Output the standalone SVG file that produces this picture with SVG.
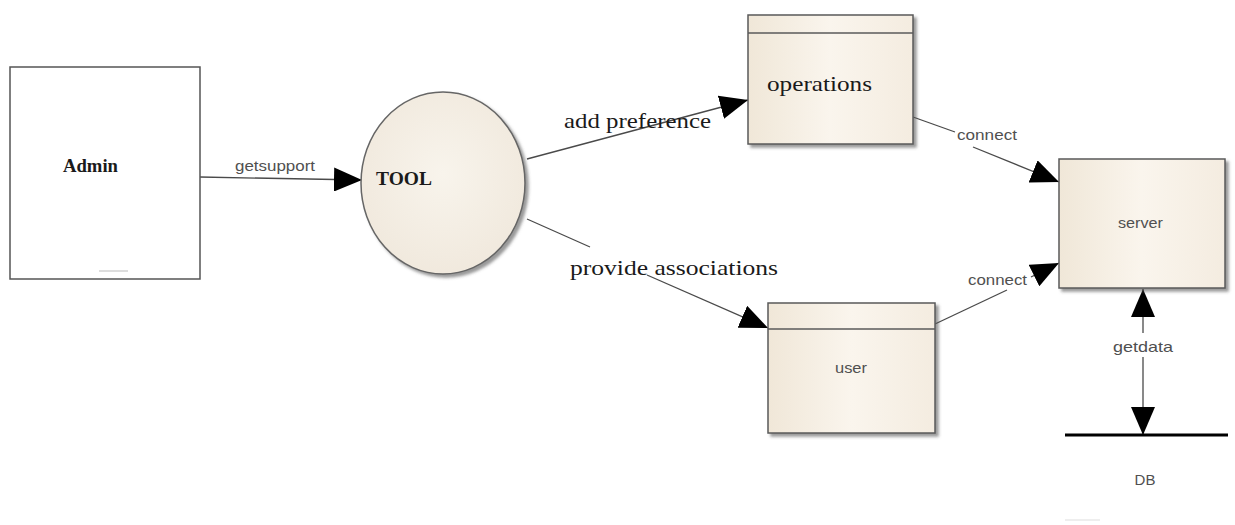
<svg xmlns="http://www.w3.org/2000/svg" width="1235" height="525" viewBox="0 0 1235 525">
<style>
  .box { fill: url(#boxGrad); stroke: #5a5a5a; stroke-width: 1.5; filter: url(#shadow); }
  .hdr { stroke: #5a5a5a; stroke-width: 1.5; }
  .conn { stroke: #4a4a4a; stroke-width: 1.3; fill: none; }
  .sans { font-family: "Liberation Sans", Arial, sans-serif; font-size: 15px; fill: #505050; }
  .serif { font-family: "Liberation Serif", "Times New Roman", serif; font-size: 21px; fill: #1a1a1a; }
  .bold { font-family: "Liberation Serif", "Times New Roman", serif; font-size: 18px; font-weight: bold; fill: #1a1a1a; }
</style>
<defs>
  <linearGradient id="boxGrad" x1="0" y1="0" x2="1" y2="0">
    <stop offset="0" stop-color="#f0e7d8"/>
    <stop offset="0.5" stop-color="#faf5ed"/>
    <stop offset="1" stop-color="#f4ece0"/>
  </linearGradient>
  <radialGradient id="ellGrad" cx="0.5" cy="0.45" r="0.6">
    <stop offset="0" stop-color="#f8f4ec"/>
    <stop offset="1" stop-color="#f0e8dc"/>
  </radialGradient>
  <filter id="shadow" x="-10%" y="-10%" width="130%" height="130%">
    <feDropShadow dx="3" dy="3" stdDeviation="1.5" flood-color="#555" flood-opacity="0.6"/>
  </filter>
  <marker id="arrow" markerUnits="userSpaceOnUse" markerWidth="28" markerHeight="24" refX="28" refY="12" orient="auto-start-reverse">
    <path d="M0,0 L28,12 L0,24 z" fill="#000"/>
  </marker>
</defs>
<rect width="1235" height="525" fill="#fff"/>

<g id="connectors">
  <line class="conn" x1="200" y1="177" x2="362" y2="180" marker-end="url(#arrow)"/>
  <line class="conn" x1="527" y1="159" x2="748" y2="100" marker-end="url(#arrow)"/>
  <line class="conn" x1="527" y1="219" x2="590" y2="247"/>
  <line class="conn" x1="647" y1="275" x2="768" y2="328" marker-end="url(#arrow)"/>
  <line class="conn" x1="913" y1="117" x2="955" y2="132"/>
  <line class="conn" x1="973" y1="147" x2="1059" y2="182" marker-end="url(#arrow)"/>
  <line class="conn" x1="935" y1="324" x2="1007" y2="290"/>
  <line class="conn" x1="1031" y1="277" x2="1059" y2="263" marker-end="url(#arrow)"/>
  <line class="conn" x1="1143" y1="333" x2="1143" y2="289" marker-end="url(#arrow)"/>
  <line class="conn" x1="1143" y1="357" x2="1143" y2="435" marker-end="url(#arrow)"/>
  <text class="sans" x="235" y="171" textLength="80" lengthAdjust="spacingAndGlyphs">getsupport</text>
  <text class="serif" x="564" y="128" textLength="147" lengthAdjust="spacingAndGlyphs">add preference</text>
  <text class="serif" x="570" y="275" textLength="208" lengthAdjust="spacingAndGlyphs">provide associations</text>
  <text class="sans" x="957" y="140" textLength="60" lengthAdjust="spacingAndGlyphs">connect</text>
  <text class="sans" x="968" y="285" textLength="59" lengthAdjust="spacingAndGlyphs">connect</text>
  <text class="sans" x="1113" y="352" textLength="60" lengthAdjust="spacingAndGlyphs">getdata</text>
</g>

<g id="admin">
  <rect x="10" y="67" width="190" height="212" fill="#fff" stroke="#555" stroke-width="1.5"/>
  <text class="bold" x="63" y="172" textLength="55" lengthAdjust="spacingAndGlyphs">Admin</text>
  <line x1="99" y1="271" x2="128" y2="271" stroke="#bbb" stroke-width="1"/>
</g>

<g id="tool">
  <ellipse cx="443" cy="183" rx="82" ry="91" fill="url(#ellGrad)" stroke="#666" stroke-width="1.5" filter="url(#shadow)"/>
  <text class="bold" x="376" y="185" textLength="56" lengthAdjust="spacingAndGlyphs">TOOL</text>
</g>

<g id="operations">
  <rect class="box" x="748" y="15" width="165" height="129"/>
  <line class="hdr" x1="748" y1="33" x2="913" y2="33"/>
  <text class="serif" x="767" y="91" textLength="105" lengthAdjust="spacingAndGlyphs">operations</text>
</g>

<g id="server">
  <rect class="box" x="1059" y="159" width="166" height="129"/>
  <text class="sans" x="1118" y="228" textLength="45" lengthAdjust="spacingAndGlyphs">server</text>
</g>

<g id="user">
  <rect class="box" x="768" y="303" width="167" height="130"/>
  <line class="hdr" x1="768" y1="329" x2="935" y2="329"/>
  <text class="sans" x="835" y="373" textLength="32" lengthAdjust="spacingAndGlyphs">user</text>
</g>

<g id="db">
  <line x1="1065" y1="435" x2="1228" y2="435" stroke="#000" stroke-width="3"/>
  <text class="sans" x="1145" y="485" text-anchor="middle">DB</text>
  <line x1="1065" y1="520" x2="1100" y2="520" stroke="#ddd" stroke-width="1"/>
</g>
</svg>
